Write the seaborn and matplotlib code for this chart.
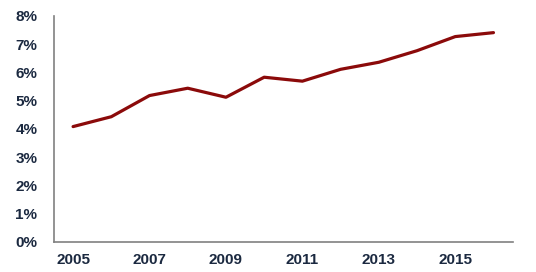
import matplotlib
matplotlib.use("Agg")
import matplotlib.pyplot as plt
import seaborn as sns
import pandas as pd
import numpy as np
from matplotlib.ticker import FixedLocator, FuncFormatter

years = [2005, 2006, 2007, 2008, 2009, 2010, 2011, 2012, 2013, 2014, 2015, 2016]
values = [4.08, 4.43, 5.18, 5.44, 5.12, 5.83, 5.69, 6.11, 6.36, 6.77, 7.27, 7.41]
label_years = [2005, 2007, 2009, 2011, 2013, 2015]

sns.set_theme(style="white")
plt.rcParams['font.family'] = ['Liberation Sans', 'DejaVu Sans']

df = pd.DataFrame({"year": years, "value": values})

fig = plt.figure(figsize=(5.36, 2.72), dpi=100)
ax = fig.add_axes([0.1007, 0.1114, 0.8556, 0.8298])
sns.lineplot(data=df, x="year", y="value", ax=ax, color="#8B0A0A", linewidth=2.3)

ax.set_xlim(2004.5, 2016.5)
ax.set_ylim(0, 8)
ax.set_xlabel("")
ax.set_ylabel("")

for s in ["top", "right"]:
    ax.spines[s].set_visible(False)
for s in ["left", "bottom"]:
    ax.spines[s].set_color("#808080")
    ax.spines[s].set_linewidth(1.2)

ax.set_yticks(np.arange(0, 9, 1))
ax.yaxis.set_major_formatter(FuncFormatter(lambda v, p: f"{int(v)}%"))
ax.set_xticks(label_years)
ax.set_xticklabels([str(y) for y in label_years])
ax.xaxis.set_minor_locator(FixedLocator([y + 0.5 for y in years]))

txt = "#1B2940"
ax.tick_params(axis="y", direction="in", length=4, width=1, color="#808080",
               labelsize=11, labelcolor=txt, pad=12)
ax.tick_params(axis="x", which="major", length=0, labelsize=11, labelcolor=txt, pad=8)
ax.tick_params(axis="x", which="minor", direction="in", length=4, width=1, color="#808080")
for lab in ax.get_xticklabels() + ax.get_yticklabels():
    lab.set_fontweight("bold")

fig.savefig("out.png", dpi=100)
